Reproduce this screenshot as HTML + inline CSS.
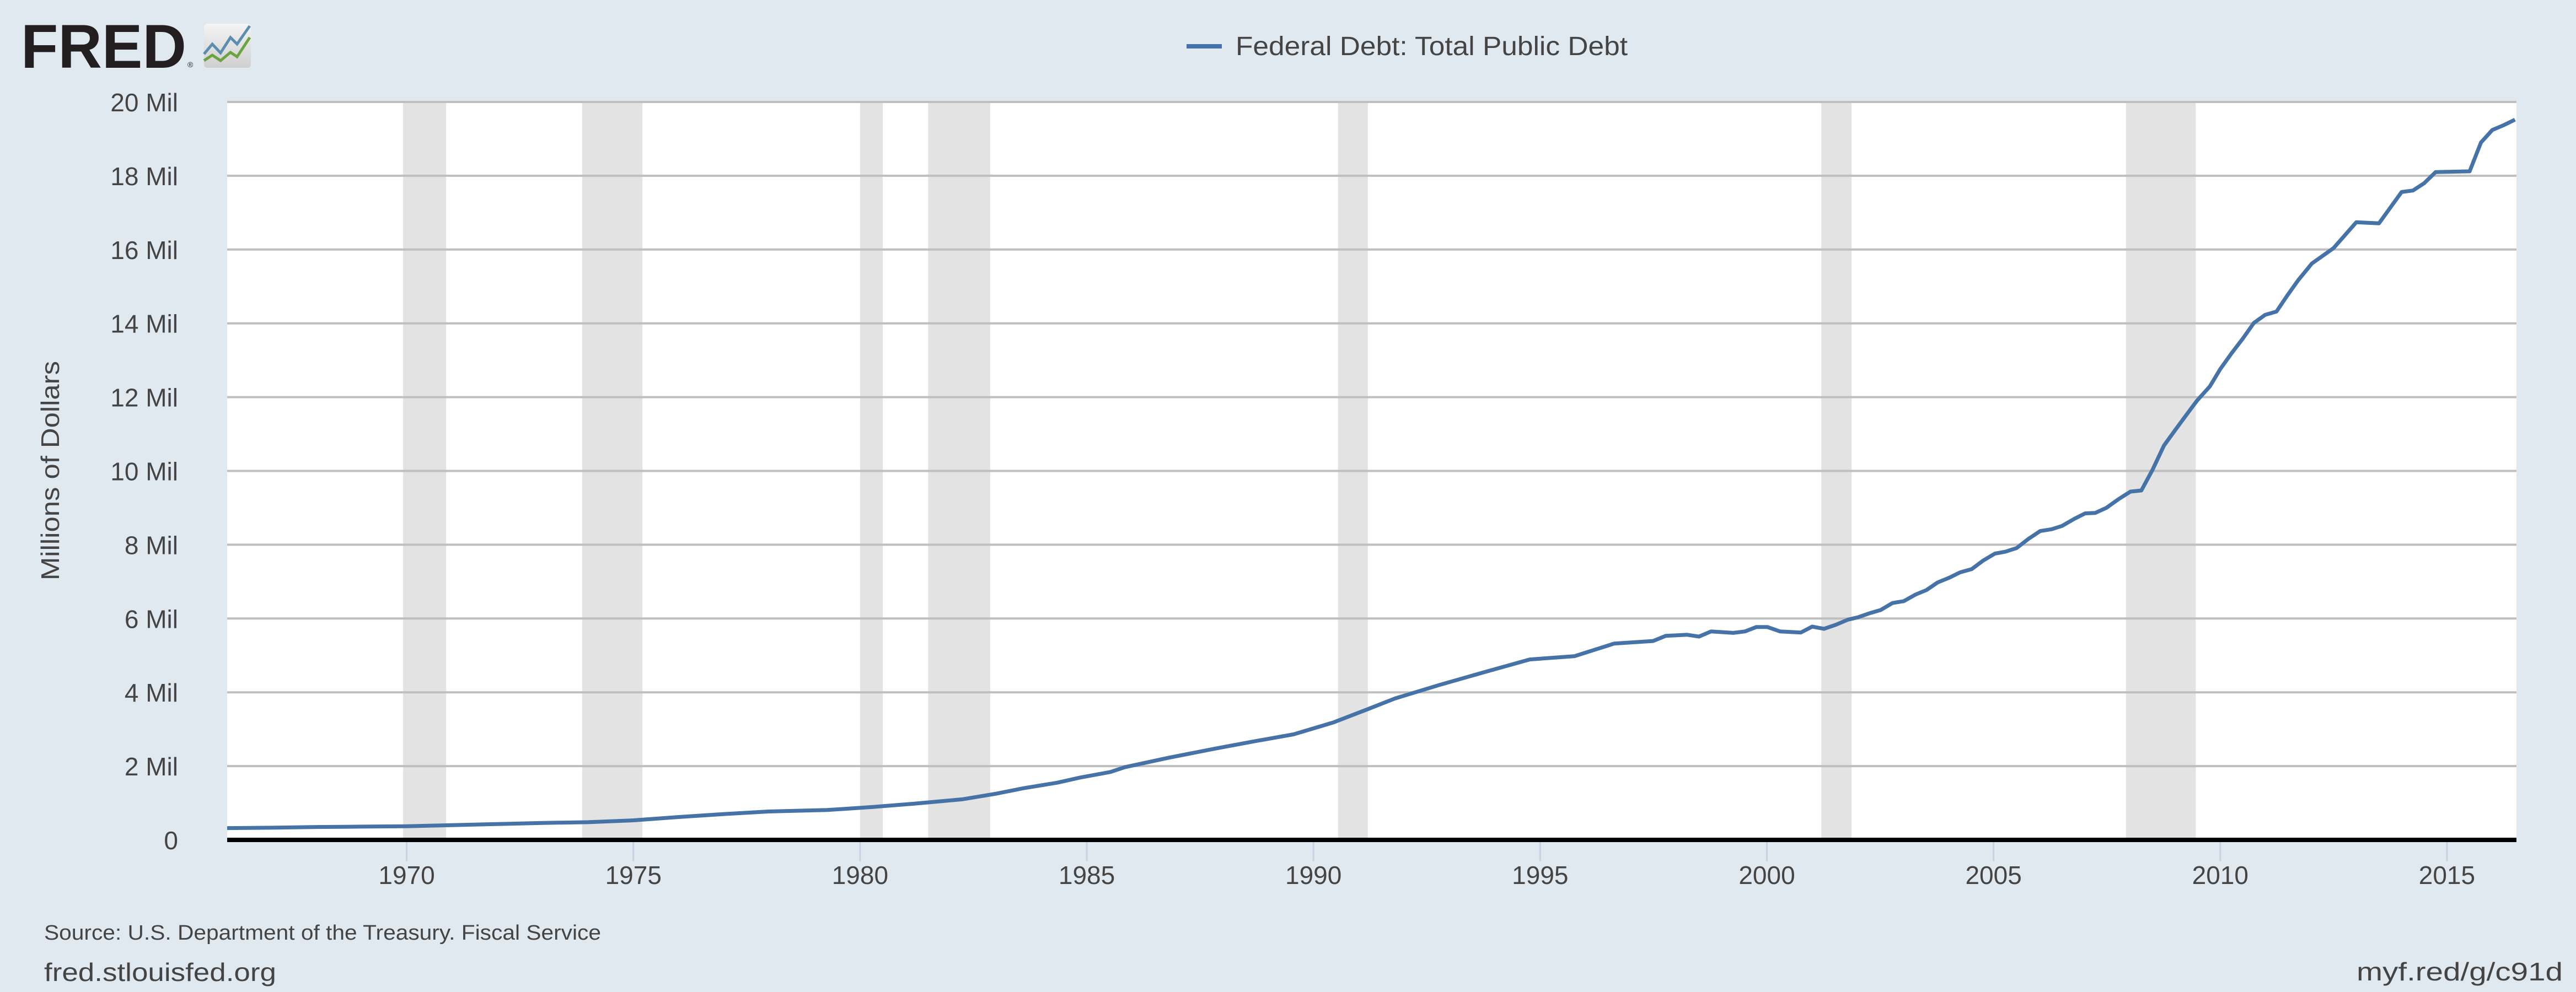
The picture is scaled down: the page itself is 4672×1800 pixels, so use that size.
<!DOCTYPE html>
<html><head><meta charset="utf-8"><style>
html,body{margin:0;padding:0;background:#e1e9f0;}
svg{display:block;}
text{font-family:"Liberation Sans",sans-serif;fill:#444;}
</style></head><body>
<svg id="s" width="4672" height="1800" viewBox="0 0 4672 1800" xmlns="http://www.w3.org/2000/svg">
<rect x="0" y="0" width="4672" height="1800" fill="#e1e9f0"/>
<defs><linearGradient id="g" x1="0" y1="0" x2="0" y2="1"><stop offset="0" stop-color="#f4f4f4"/><stop offset="1" stop-color="#cfcfcf"/></linearGradient></defs>
<!-- logo -->
<text x="38" y="123" style="font-family:'Liberation Sans',sans-serif;font-weight:bold;font-size:112px;fill:#231f20" textLength="300" lengthAdjust="spacingAndGlyphs">FRED</text>
<text x="340" y="122" style="font-size:14px;fill:#231f20">®</text>
<rect x="370" y="43" width="85" height="80" rx="6" fill="url(#g)"/>
<polyline points="370,98 385,80 400,96 418,68 430,80 453,47" fill="none" stroke="#5b8db0" stroke-width="5"/>
<polyline points="370,110 385,100 400,110 418,95 430,103 453,68" fill="none" stroke="#6aa342" stroke-width="5"/>
<!-- legend -->
<rect x="2152" y="80" width="64" height="8" fill="#4572a7"/>
<text x="2241" y="100" style="font-size:48px" textLength="711" lengthAdjust="spacingAndGlyphs">Federal Debt: Total Public Debt</text>
<!-- plot bg -->
<rect x="412" y="185" width="4152" height="1339" fill="#fff"/>
<g id="rec" fill="#e3e3e3"></g>
<g id="grid" stroke="#bfbfbf" stroke-width="4"></g>
<g id="ylab"></g>
<g id="xlab"></g>
<path id="line" fill="none" stroke="#4572a7" stroke-width="7" stroke-linejoin="round"/>
<rect x="412" y="1520" width="4152" height="8" fill="#000"/>
<text transform="translate(107,854) rotate(-90)" text-anchor="middle" style="font-size:46px" textLength="398" lengthAdjust="spacingAndGlyphs">Millions of Dollars</text>
<text x="80" y="1705" style="font-size:38px" textLength="1010" lengthAdjust="spacingAndGlyphs">Source: U.S. Department of the Treasury. Fiscal Service</text>
<text x="80" y="1780" style="font-size:46px" textLength="421" lengthAdjust="spacingAndGlyphs">fred.stlouisfed.org</text>
<text x="4274" y="1779" style="font-size:46px" textLength="374" lengthAdjust="spacingAndGlyphs">myf.red/g/c91d</text>
</svg>
<script>
var NS="http://www.w3.org/2000/svg";
function X(y){return 737.6+(y-1970)*82.23;}
function Y(v){return 1524-v*66.95;}
function el(p,t,a,txt){var e=document.createElementNS(NS,t);for(var k in a)e.setAttribute(k,a[k]);if(txt)e.textContent=txt;document.getElementById(p).appendChild(e);return e;}
var rec=[[1969.92,1970.87],[1973.87,1975.2],[1980.0,1980.5],[1981.5,1982.87],[1990.54,1991.2],[2001.2,2001.87],[2007.92,2009.46]];
rec.forEach(function(r){el("rec","rect",{x:X(r[0]),y:185,width:X(r[1])-X(r[0]),height:1339});});
for(var i=1;i<=10;i++){var y=Y(i*2);el("grid","line",{x1:412,x2:4564,y1:y,y2:y});el("ylab","text",{x:323,y:y+17,"text-anchor":"end",style:"font-size:46px"},(i*2)+" Mil");}
el("ylab","text",{x:323,y:1541,"text-anchor":"end",style:"font-size:46px"},"0");
for(var yr=1970;yr<=2015;yr+=5){var x=X(yr);el("xlab","rect",{x:x-1.5,y:1528,width:3,height:35,fill:"#c5d3e2"});el("xlab","text",{x:x,y:1604,"text-anchor":"middle",style:"font-size:46px"},String(yr));}
var d=[[1966,0.32],[1967,0.33],[1968,0.35],[1969,0.36],[1970,0.37],[1971,0.40],[1972,0.43],[1973,0.46],[1974,0.48],[1975,0.53],[1976,0.62],[1977,0.70],[1978,0.77],[1979.27,0.81],[1980.26,0.89],[1981.13,0.975],[1982.25,1.10],[1982.99,1.25],[1983.6,1.40],[1984.35,1.55],[1984.85,1.69],[1985.52,1.84],[1985.84,1.97],[1986.82,2.23],[1987.82,2.47],[1988.69,2.67],[1989.56,2.86],[1990.43,3.18],[1991.17,3.53],[1991.79,3.83],[1992.78,4.20],[1993.78,4.55],[1994.77,4.89],[1995.76,4.98],[1996.63,5.32],[1997.49,5.39],[1997.77,5.53],[1998.24,5.56],[1998.5,5.51],[1998.77,5.65],[1999.26,5.61],[1999.52,5.65],[1999.77,5.77],[2000.01,5.77],[2000.29,5.65],[2000.75,5.62],[2001.0,5.78],[2001.26,5.72],[2001.52,5.83],[2001.79,5.97],[2002.0,6.03],[2002.26,6.14],[2002.51,6.23],[2002.77,6.42],[2003.02,6.47],[2003.28,6.65],[2003.52,6.77],[2003.77,6.98],[2004.03,7.11],[2004.26,7.25],[2004.52,7.34],[2004.77,7.57],[2005.03,7.76],[2005.26,7.81],[2005.51,7.91],[2005.77,8.16],[2006.03,8.37],[2006.28,8.42],[2006.51,8.51],[2006.78,8.70],[2007.02,8.85],[2007.24,8.86],[2007.49,9.0],[2007.75,9.23],[2008.02,9.44],[2008.26,9.47],[2008.51,10.04],[2008.76,10.69],[2009.02,11.13],[2009.26,11.53],[2009.49,11.91],[2009.77,12.29],[2010.0,12.76],[2010.25,13.19],[2010.5,13.59],[2010.74,14.01],[2010.99,14.23],[2011.24,14.32],[2011.47,14.74],[2011.72,15.17],[2012.02,15.62],[2012.5,16.04],[2013.0,16.74],[2013.5,16.71],[2014.0,17.56],[2014.25,17.6],[2014.5,17.8],[2014.75,18.1],[2015.5,18.12],[2015.75,18.9],[2016.0,19.24],[2016.25,19.37],[2016.5,19.52]];
var p="";d.forEach(function(q,i){var x=Math.max(412,Math.min(4564,X(q[0])));p+=(i?"L":"M")+x.toFixed(1)+","+Y(q[1]).toFixed(1);});
document.getElementById("line").setAttribute("d",p);
</script>
</body></html>
